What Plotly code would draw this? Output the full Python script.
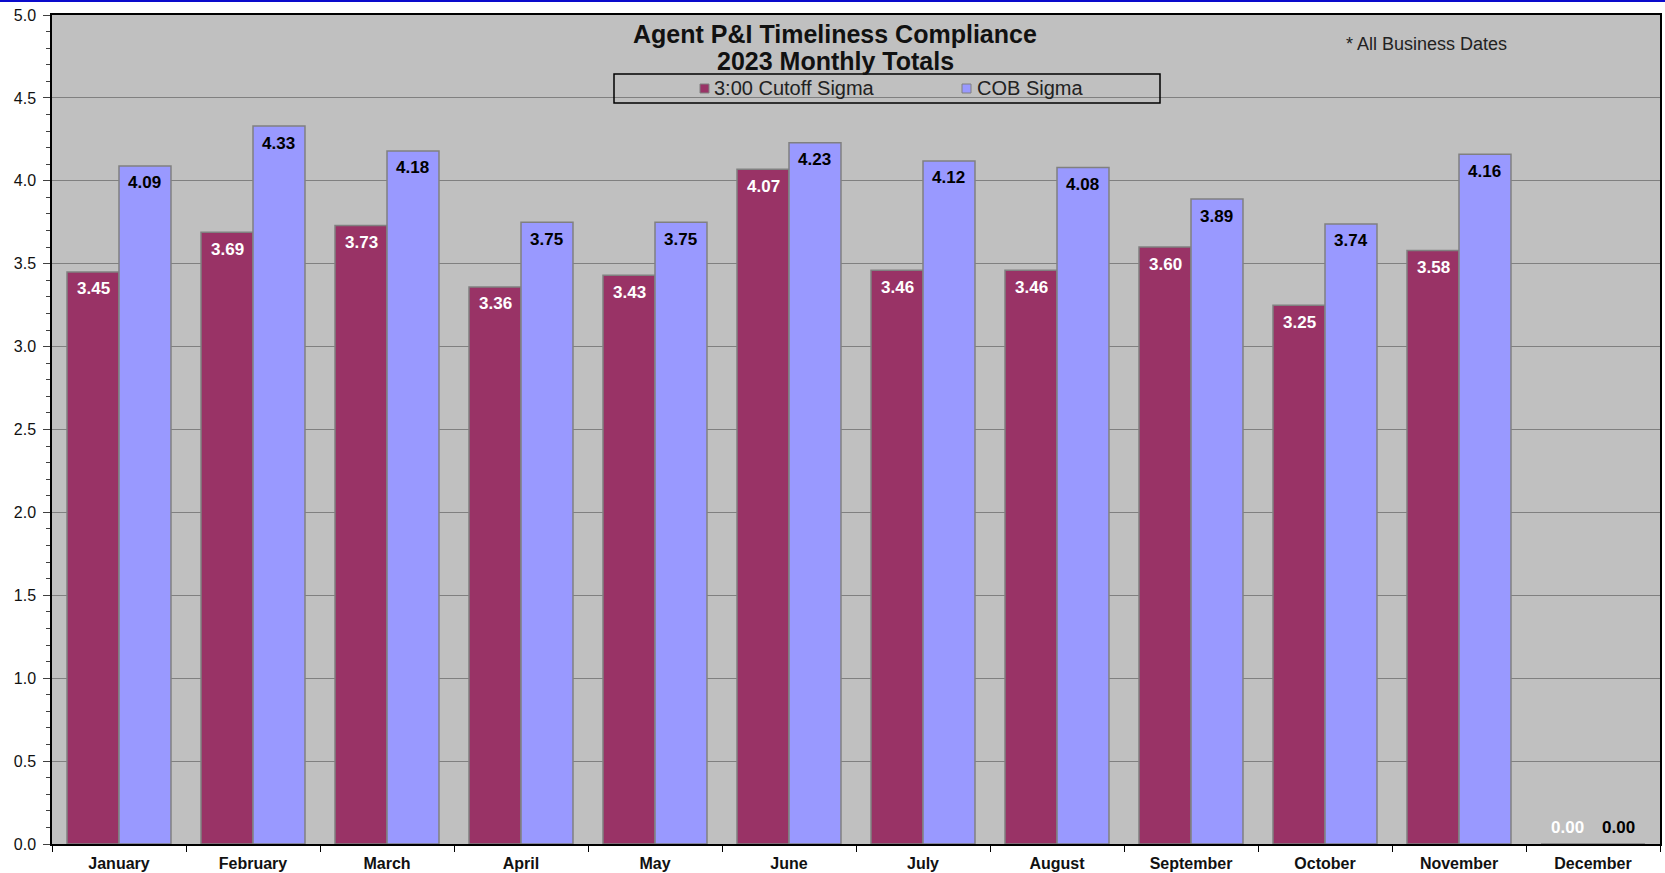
import plotly.graph_objects as go

# ---- data -------------------------------------------------------------
months = ["January", "February", "March", "April", "May", "June",
          "July", "August", "September", "October", "November", "December"]
cutoff_sigma = [3.45, 3.69, 3.73, 3.36, 3.43, 4.07, 3.46, 3.46, 3.60, 3.25, 3.58, 0.00]
cob_sigma = [4.09, 4.33, 4.18, 3.75, 3.75, 4.23, 4.12, 4.08, 3.89, 3.74, 4.16, 0.00]
y_ticks = [0.0, 0.5, 1.0, 1.5, 2.0, 2.5, 3.0, 3.5, 4.0, 4.5, 5.0]
series_names = ["3:00 Cutoff Sigma", "COB Sigma"]

# ---- geometry / styling -------------------------------------------------
W, H = 1665, 873
M = dict(l=52, r=5, t=15, b=29)
PW = W - M["l"] - M["r"]
PH = H - M["t"] - M["b"]
BARGAP = 0.224

MAROON = "#993366"
PERIWINKLE = "#9999FF"
PLOT_BG = "#C0C0C0"
GRID = "#808080"
FONT = "Liberation Sans, Arial, sans-serif"


def px_x(x):
    """pixel column -> paper x"""
    return (x - M["l"]) / PW


def px_y(y):
    """pixel row -> paper y"""
    return 1 - (y - M["t"]) / PH


fig = go.Figure()
fig.add_trace(go.Bar(x=months, y=cutoff_sigma, name=series_names[0],
                     marker=dict(color=MAROON, line=dict(color=GRID, width=1.5)),
                     showlegend=False))
fig.add_trace(go.Bar(x=months, y=cob_sigma, name=series_names[1],
                     marker=dict(color=PERIWINKLE, line=dict(color=GRID, width=1.5)),
                     showlegend=False))

# value labels just inside the top of each bar
bar_w = PW / len(months) * (1 - BARGAP) / 2
annotations = []
for values, sign, colour in ((cutoff_sigma, -1, "white"), (cob_sigma, 1, "black")):
    for m, v in zip(months, values):
        annotations.append(dict(
            x=m, y=v, xref="x", yref="y", text=f"<b>{v:.2f}</b>", showarrow=False,
            xshift=sign * bar_w / 2, yshift=-17 if v > 0 else 17,
            font=dict(family=FONT, size=17, color=colour),
            xanchor="center", yanchor="middle"))

# chart title
annotations.append(dict(x=px_x(835), y=px_y(34), xref="paper", yref="paper",
                        text="<b>Agent P&I Timeliness Compliance</b>", showarrow=False,
                        font=dict(family=FONT, size=25, color="#111111"),
                        xanchor="center", yanchor="middle"))
annotations.append(dict(x=px_x(835), y=px_y(61), xref="paper", yref="paper",
                        text="<b>2023 Monthly Totals</b>", showarrow=False,
                        font=dict(family=FONT, size=25, color="#111111"),
                        xanchor="center", yanchor="middle"))
# footnote
annotations.append(dict(x=px_x(1426), y=px_y(44), xref="paper", yref="paper",
                        text="* All Business Dates", showarrow=False,
                        font=dict(family=FONT, size=18, color="#222222"),
                        xanchor="center", yanchor="middle"))

# legend box
shapes = [
    dict(type="rect", xref="paper", yref="paper",
         x0=px_x(614), x1=px_x(1160), y0=px_y(103), y1=px_y(74),
         line=dict(color="black", width=1.5), fillcolor="rgba(0,0,0,0)"),
    dict(type="line", xref="paper", yref="paper",
         x0=px_x(0), x1=px_x(W), y0=px_y(1), y1=px_y(1),
         line=dict(color="#0A0ACC", width=2)),
]
for (sx, tx), colour, name in zip(((700, 712), (962, 975)), (MAROON, PERIWINKLE), series_names):
    shapes.append(dict(type="rect", xref="paper", yref="paper",
                       x0=px_x(sx), x1=px_x(sx + 9), y0=px_y(93), y1=px_y(84),
                       line=dict(color=GRID, width=1), fillcolor=colour))
    annotations.append(dict(x=px_x(tx), y=px_y(88), xref="paper", yref="paper",
                            text=name, showarrow=False,
                            font=dict(family=FONT, size=20, color="#222222"),
                            xanchor="left", yanchor="middle"))

fig.update_layout(
    width=W, height=H,
    margin=M,
    barmode="group", bargap=BARGAP, bargroupgap=0,
    plot_bgcolor=PLOT_BG, paper_bgcolor="white",
    font=dict(family=FONT, color="#111111"),
    annotations=annotations,
    shapes=shapes,
    xaxis=dict(type="category", ticks="outside", tickson="boundaries", ticklen=6,
               tickcolor="black", showline=True, linecolor="black", linewidth=1.5,
               mirror=True, showgrid=False, ticklabelstandoff=4, automargin=False,
               tickfont=dict(family=FONT, size=16, color="#111111", weight="bold")),
    yaxis=dict(range=[0, 5], tickmode="array", tickvals=y_ticks,
               ticktext=[f"{v:.1f}" for v in y_ticks],
               ticks="outside", ticklen=7, tickcolor="#404040",
               showline=True, linecolor="black", linewidth=1.5, mirror=True,
               showgrid=True, gridcolor=GRID, gridwidth=1, zeroline=False,
               ticklabelstandoff=4, automargin=False,
               tickfont=dict(family=FONT, size=16, color="#111111"),
               minor=dict(tickmode="linear", tick0=0, dtick=0.1, ticks="outside",
                          ticklen=4, tickcolor="#404040", showgrid=False)),
)

fig.write_html("out.html")
